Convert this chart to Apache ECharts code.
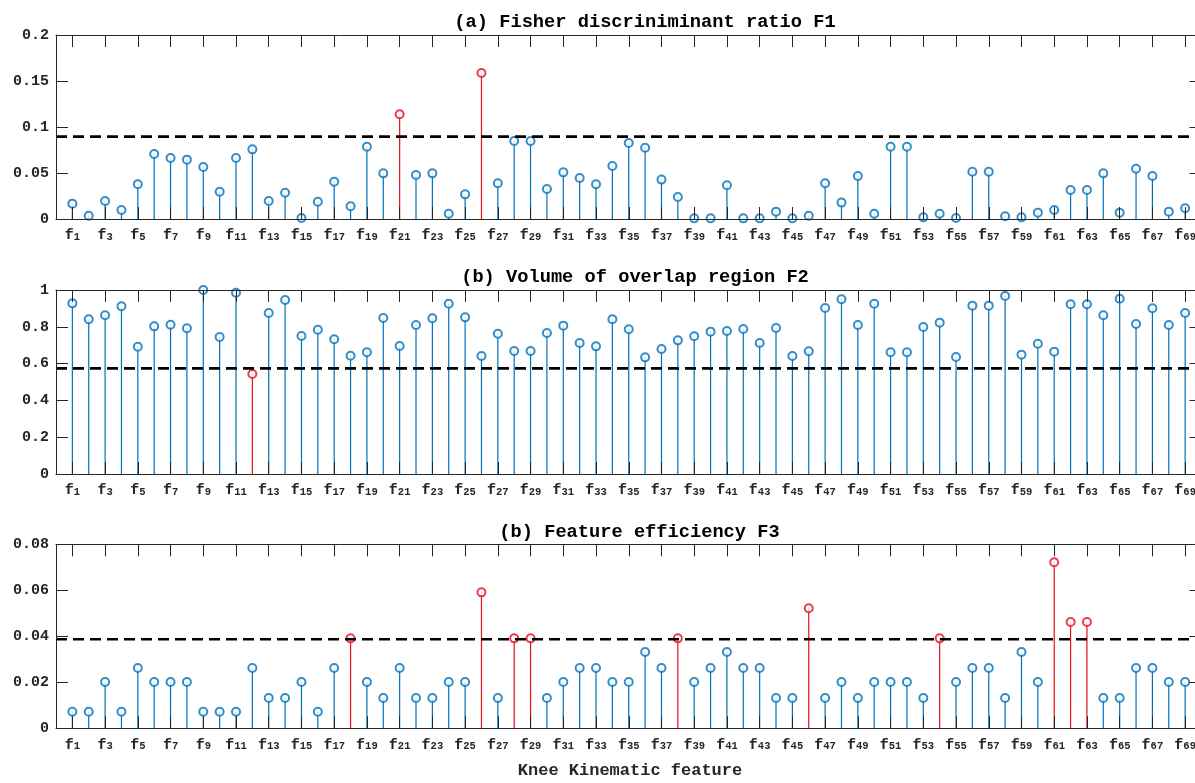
<!DOCTYPE html>
<html>
<head>
<meta charset="utf-8">
<script src="https://cdn.jsdelivr.net/npm/echarts@6/dist/echarts.min.js"></script>
<style>
html,body{margin:0;padding:0;background:#fff;}
#chart{width:1195px;height:783px;}
</style>
</head>
<body>
<div id="chart"></div>
<script>
// ---------- data ----------
const featureIndex = Array.from({length: 69}, (_, i) => i + 1);
const tickFeatures = featureIndex.filter(i => i % 2 === 1);

const f1Values = [0.0167,0.0036,0.0196,0.0098,0.0377,0.0707,0.0663,0.0645,0.0565,0.0297,
  0.0663,0.0757,0.0196,0.0286,0.0011,0.0188,0.0406,0.0138,0.0786,0.0496,
  0.1138,0.0478,0.0496,0.0058,0.0268,0.1587,0.0388,0.0848,0.0848,0.0326,
  0.0507,0.0446,0.0377,0.0576,0.0826,0.0775,0.0428,0.0239,0.0007,0.0007,
  0.0366,0.0007,0.0007,0.0080,0.0007,0.0036,0.0388,0.0178,0.0467,0.0058,
  0.0786,0.0786,0.0018,0.0058,0.0011,0.0514,0.0514,0.0029,0.0018,0.0069,
  0.0098,0.0315,0.0315,0.0496,0.0069,0.0547,0.0467,0.0080,0.0116];

const f2Values = [0.9275,0.8406,0.8623,0.9112,0.692,0.8025,0.8116,0.7917,1.0,0.7446,
  0.9855,0.5435,0.875,0.9457,0.75,0.7844,0.7319,0.6431,0.6612,0.8478,
  0.6957,0.8098,0.846,0.9257,0.8514,0.6413,0.7627,0.6685,0.6685,0.7663,
  0.8062,0.712,0.6938,0.8406,0.7862,0.634,0.6793,0.7264,0.7482,0.7736,
  0.7772,0.788,0.712,0.7935,0.6413,0.6667,0.9022,0.9493,0.8098,0.9257,
  0.6612,0.6612,0.7989,0.8225,0.6359,0.9149,0.9149,0.9674,0.6486,0.7083,
  0.6649,0.9221,0.9221,0.8623,0.9529,0.8152,0.9004,0.8098,0.875];

const f3Values = [0.0072,0.0072,0.0201,0.0072,0.0262,0.0201,0.0201,0.0201,0.0072,0.0072,
  0.0072,0.0262,0.0132,0.0132,0.0201,0.0072,0.0262,0.0391,0.0201,0.0132,
  0.0262,0.0132,0.0132,0.0201,0.0201,0.0591,0.0132,0.0391,0.0391,0.0132,
  0.0201,0.0262,0.0262,0.0201,0.0201,0.0332,0.0262,0.0391,0.0201,0.0262,
  0.0332,0.0262,0.0262,0.0132,0.0132,0.0522,0.0132,0.0201,0.0132,0.0201,
  0.0201,0.0201,0.0132,0.0391,0.0201,0.0262,0.0262,0.0132,0.0332,0.0201,
  0.0722,0.0462,0.0462,0.0132,0.0132,0.0262,0.0262,0.0201,0.0201];

const thresholds = [0.0895, 0.5743, 0.0387];
const panelTitles = ['(a) Fisher discriniminant ratio F1',
                     '(b) Volume of overlap region F2',
                     '(b) Feature efficiency F3'];
const xAxisTitle = 'Knee Kinematic feature';
const yMax = [0.2, 1, 0.08];
const yStep = [0.05, 0.2, 0.02];
const xRange = [0, 70];

// ---------- styling / layout ----------
const BLUE = '#0072BD', RED = '#E3101E', AXIS = '#262626';
const MONO = '"Liberation Mono","DejaVu Sans Mono",monospace';
const gridTops = [35, 290, 544.3];
const gridH = 184;
const titlePos = [[645, 22], [635, 277], [639.5, 532]];

const panels = [
  {values: f1Values, red: (v, t) => v > t},
  {values: f2Values, red: (v, t) => v < t},
  {values: f3Values, red: (v, t) => v > t}
];

const grid = [], xAxis = [], yAxis = [], series = [], graphic = [];

panels.forEach((p, k) => {
  grid.push({left: 56, width: 1145.5, top: gridTops[k], height: gridH,
             containLabel: false, outerBoundsMode: 'none'});
  const tickCommon = {show: true, inside: true, length: 12, customValues: tickFeatures,
                      lineStyle: {color: AXIS, width: 1}};
  xAxis.push({
    gridIndex: k, type: 'value', min: xRange[0], max: xRange[1], position: 'bottom', z: 10,
    axisLine: {show: true, onZero: false, lineStyle: {color: AXIS, width: 1}},
    axisTick: tickCommon,
    splitLine: {show: false},
    axisLabel: {
      show: true, customValues: tickFeatures, margin: 9, hideOverlap: false,
      formatter: v => '{f|f}{s|' + v + '}',
      rich: {
        f: {fontFamily: MONO, fontSize: 15, fontWeight: 'bold', color: AXIS, lineHeight: 15, verticalAlign: 'top'},
        s: {fontFamily: MONO, fontSize: 10.5, fontWeight: 'bold', color: AXIS, lineHeight: 11, padding: [10, 0, 0, 0], verticalAlign: 'bottom'}
      }
    }
  });
  xAxis.push({
    gridIndex: k, type: 'value', min: xRange[0], max: xRange[1], position: 'top', z: 10,
    axisLine: {show: true, onZero: false, lineStyle: {color: AXIS, width: 1}},
    axisTick: tickCommon, axisLabel: {show: false}, splitLine: {show: false}
  });
  yAxis.push({
    gridIndex: k, type: 'value', min: 0, max: yMax[k], interval: yStep[k], position: 'left', z: 10,
    axisLine: {show: true, onZero: false, lineStyle: {color: AXIS, width: 1}},
    axisTick: {show: true, inside: true, length: 12, lineStyle: {color: AXIS}},
    axisLabel: {show: true, margin: 7, fontFamily: MONO, fontSize: 15, fontWeight: 'bold', color: AXIS},
    splitLine: {show: false}
  });
  yAxis.push({
    gridIndex: k, type: 'value', min: 0, max: yMax[k], interval: yStep[k], position: 'right', z: 10,
    axisLine: {show: true, onZero: false, lineStyle: {color: AXIS, width: 1}},
    axisTick: {show: true, inside: true, length: 12, lineStyle: {color: AXIS}},
    axisLabel: {show: false}, splitLine: {show: false}
  });

  const t = thresholds[k];
  const pts = p.values.map((v, i) => [featureIndex[i], v, p.red(v, t) ? 1 : 0]);

  series.push({
    type: 'custom', xAxisIndex: 2 * k, yAxisIndex: 2 * k, z: 2,
    data: pts,
    renderItem: (params, api) => {
      const x = api.value(0), y = api.value(1), r = api.value(2);
      const p0 = api.coord([x, 0]), p1 = api.coord([x, y]);
      return {type: 'line', shape: {x1: p0[0], y1: p0[1], x2: p1[0], y2: p1[1]},
              style: {stroke: r ? RED : BLUE, lineWidth: 1.2}};
    },
    silent: true
  });
  series.push({
    type: 'scatter', xAxisIndex: 2 * k, yAxisIndex: 2 * k, z: 3,
    symbol: 'emptyCircle', symbolSize: 8, clip: false,
    data: pts.map(d => ({value: [d[0], d[1]],
      itemStyle: {color: d[2] ? RED : BLUE, borderColor: d[2] ? RED : BLUE, borderWidth: 1.4}})),
    silent: true
  });
  series.push({
    type: 'line', xAxisIndex: 2 * k, yAxisIndex: 2 * k, z: 4,
    data: [[xRange[0], t], [xRange[1], t]], symbol: 'none',
    lineStyle: {color: '#000', width: 2.6, type: [11, 6]}, silent: true
  });

  graphic.push({
    type: 'text', x: titlePos[k][0], y: titlePos[k][1],
    style: {text: panelTitles[k], fontFamily: MONO, fontSize: 18.7, fontWeight: 'bold', fill: '#000',
            align: 'center', verticalAlign: 'middle', textAlign: 'center', textVerticalAlign: 'middle'}
  });
});

graphic.push({
  type: 'text', x: 630, y: 771,
  style: {text: xAxisTitle, fontFamily: MONO, fontSize: 17, fontWeight: 'bold', fill: AXIS,
          align: 'center', verticalAlign: 'middle', textAlign: 'center', textVerticalAlign: 'middle'}
});

const chart = echarts.init(document.getElementById('chart'), null, {renderer: 'canvas'});
chart.setOption({animation: false, backgroundColor: '#fff', grid, xAxis, yAxis, series, graphic});
</script>
</body>
</html>
